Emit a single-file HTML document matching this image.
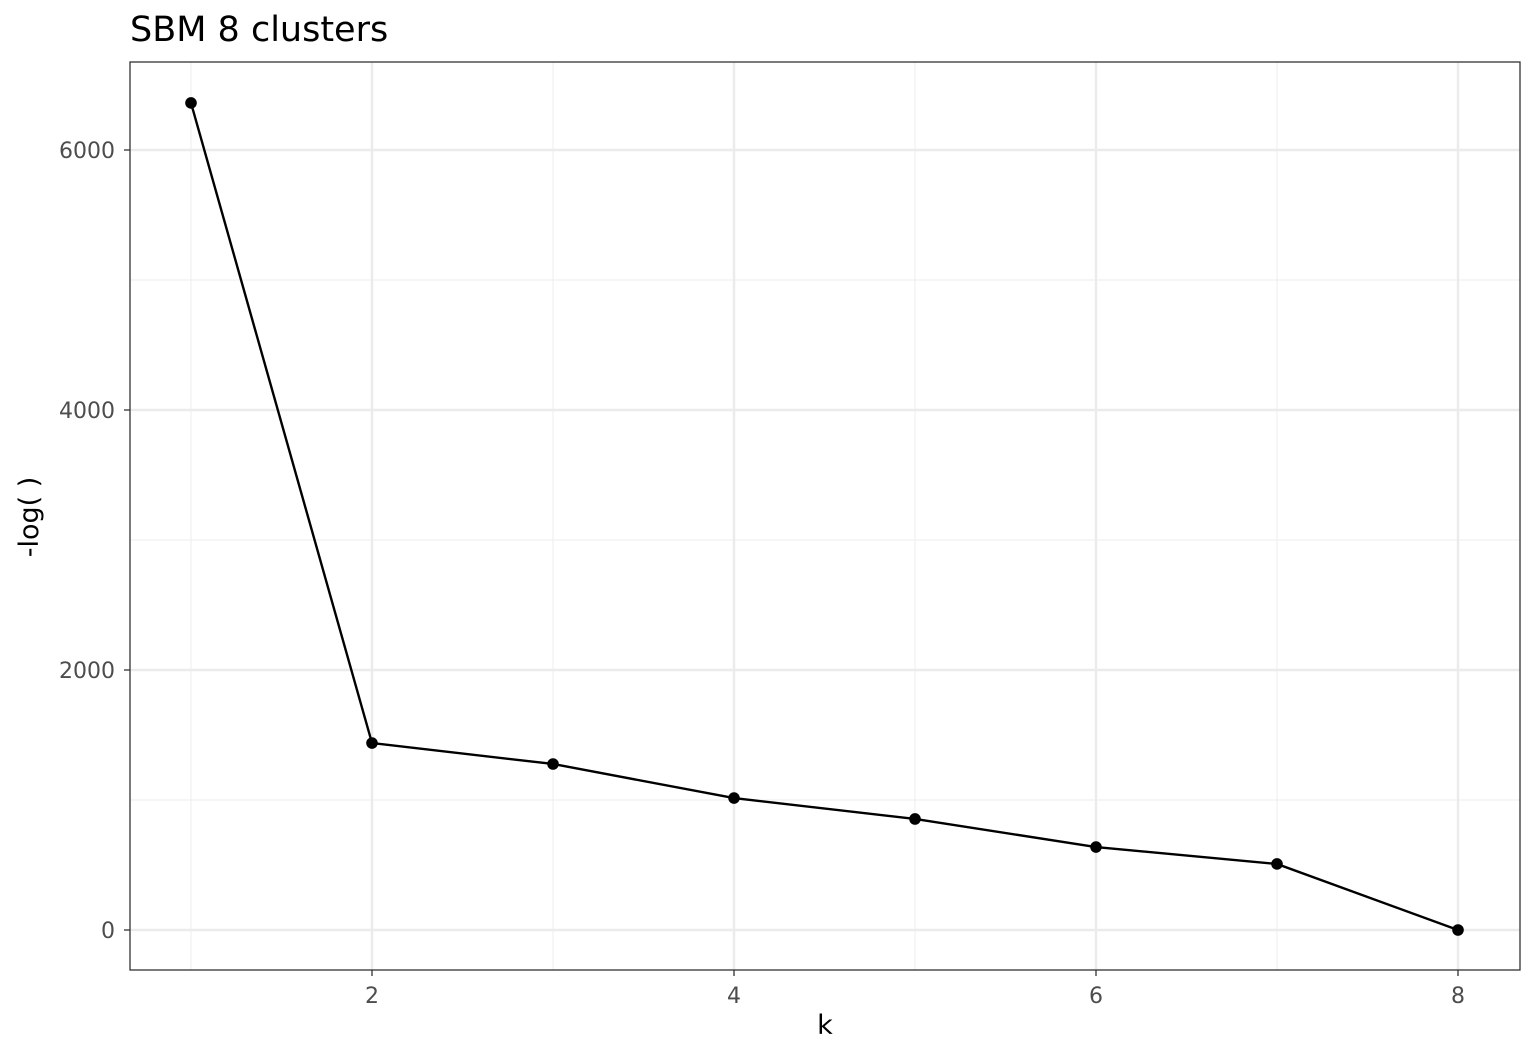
<!DOCTYPE html>
<html><head><meta charset="utf-8"><style>
body{margin:0;background:#fff;}
svg{display:block;font-family:"DejaVu Sans","Liberation Sans",sans-serif;}
</style></head><body>
<svg id="chart" width="1536" height="1056">
<rect width="1536" height="1056" fill="#fff"/>
<text x="130" y="41" font-size="35" fill="#000">SBM 8 clusters</text>
<g id="grid"></g>
<g id="series"></g>
<rect x="130" y="62" width="1390" height="908" fill="none" stroke="#333" stroke-width="1.3"/>
<g id="axes"></g>
<text x="825" y="1034" font-size="27" text-anchor="middle" fill="#000">k</text>
<text transform="translate(38,517) rotate(-90)" font-size="27" text-anchor="middle" fill="#000">-log( )</text>
</svg>
<script>
const ks=[1,2,3,4,5,6,7,8];
const vals=[6362,1438,1277,1015,854,638,508,0];
const xTicks=[2,4,6,8];
const yTicks=[0,2000,4000,6000];
const xMinor=[1,3,5,7];
const yMinor=[1000,3000,5000];
const NS="http://www.w3.org/2000/svg";
function X(k){return 372+(k-2)*181;}
function Y(v){return 930-v*0.13;}
function mk(tag,attrs,parent){const e=document.createElementNS(NS,tag);for(const a in attrs)e.setAttribute(a,attrs[a]);document.getElementById(parent).appendChild(e);return e;}
xMinor.forEach(k=>{const e=mk('line',{x1:X(k),x2:X(k),y1:62,y2:970,stroke:'#f0f0f0','stroke-width':1.2},'grid');

});
yMinor.forEach(v=>{const e=mk('line',{x1:130,x2:1520,y1:Y(v),y2:Y(v),stroke:'#f0f0f0','stroke-width':1.2},'grid');

});
xTicks.forEach(k=>{const e=mk('line',{x1:X(k),x2:X(k),y1:62,y2:970,stroke:'#ebebeb','stroke-width':2.4},'grid');


const t=mk('line',{x1:X(k),x2:X(k),y1:970,y2:976,stroke:'#333','stroke-width':1.3},'axes');


const l=mk('text',{x:X(k),y:1003,'font-size':22,'text-anchor':'middle',fill:'#4d4d4d'},'axes');l.textContent=k;

});
yTicks.forEach(v=>{const e=mk('line',{x1:130,x2:1520,y1:Y(v),y2:Y(v),stroke:'#ebebeb','stroke-width':2.4},'grid');


const t=mk('line',{x1:124,x2:130,y1:Y(v),y2:Y(v),stroke:'#333','stroke-width':1.3},'axes');


const l=mk('text',{x:115,y:Y(v)+8,'font-size':22,'text-anchor':'end',fill:'#4d4d4d'},'axes');l.textContent=v;

});
const line=mk('polyline',{points:ks.map((k,i)=>X(k)+','+Y(vals[i])).join(' '),fill:'none',stroke:'#000','stroke-width':2.4},'series');


ks.forEach((k,i)=>{const c=mk('circle',{cx:X(k),cy:Y(vals[i]),r:5.8,fill:'#000'},'series');

});
</script>
</body></html>
